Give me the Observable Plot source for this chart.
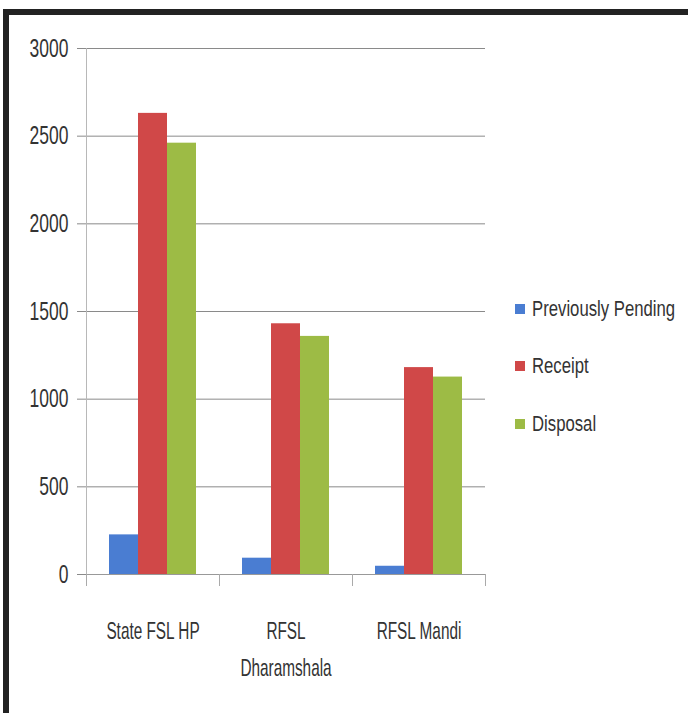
<!DOCTYPE html>
<html><head><meta charset="utf-8">
<script src="https://cdn.jsdelivr.net/npm/d3@7"></script>
<script src="https://cdn.jsdelivr.net/npm/@observablehq/plot@0.6"></script>
<style>
body{margin:0;background:#fff;}
#wrap{position:relative;width:688px;height:713px;overflow:hidden;font-family:"Liberation Sans",Arial,sans-serif;}
#frame{position:absolute;left:3px;top:9px;width:720px;height:740px;border-top:6px solid #222;border-left:6px solid #222;}
#chart{position:absolute;left:0;top:0;}
.lg{position:absolute;left:515px;height:30px;display:flex;align-items:center;font-size:22px;color:#333;white-space:nowrap;}
.lg .sw{display:inline-block;width:10px;height:10px;margin-right:7px;flex:none;}
.lg .tx{display:inline-block;transform:scaleX(0.76);transform-origin:left center;}
</style></head><body>
<div id="wrap"><div id="frame"></div><div id="chart"></div><div id="legend"></div></div>
<script>
const categories = ["State FSL HP","RFSL Dharamshala","RFSL Mandi"];
const seriesNames = ["Previously Pending","Receipt","Disposal"];
const pending = [226, 93, 47];
const receipt = [2630, 1430, 1180];
const disposal = [2460, 1358, 1126];
const colors = ["#4a7dd2","#d04848","#9dbb45"];
const yTicks = [0,500,1000,1500,2000,2500,3000];
const legendCenters = [309, 366, 424];

const values = [pending, receipt, disposal];
const data = categories.flatMap((c,i)=>seriesNames.map((s,j)=>({cat:c, s, v:values[j][i]})));
const labelText = d => d === "RFSL Dharamshala" ? "RFSL\nDharamshala" : d;

const chart = Plot.plot({
  width:688, height:713, marginTop:48, marginBottom:139, marginLeft:85, marginRight:202,
  style:{fontFamily:'"Liberation Sans",Arial,sans-serif', fontSize:"21px", color:"#333", background:"transparent", overflow:"visible"},
  fx:{domain:categories, padding:0, axis:null, label:null},
  x:{domain:seriesNames, paddingInner:0, paddingOuter:0.77, axis:null},
  y:{domain:[0,3000], axis:null},
  color:{domain:seriesNames, range:colors},
  marks:[
    Plot.gridY({ticks:yTicks, stroke:"#8a8a8a", strokeOpacity:1}),
    Plot.axisY({ticks:yTicks, tickFormat:d=>String(d), tickSize:9, tickPadding:9, stroke:"#8a8a8a", label:null, fontSize:25, fill:"#333"}),
    Plot.barY(data, {fx:"cat", x:"s", y:"v", fill:"s"}),
    Plot.frame({anchor:"left", stroke:"#b8b8b8", facetAnchor:"left"}),
    Plot.ruleY([0], {stroke:"#999"}),
    Plot.frame({anchor:"left", insetTop:526, insetBottom:-11, stroke:"#aaa"}),
    Plot.frame({anchor:"right", insetTop:526, insetBottom:-11, stroke:"#aaa"}),
    Plot.text(categories, {fx:d=>d, text:labelText, frameAnchor:"bottom", lineAnchor:"top", dy:38, lineHeight:1.54, fontSize:24, fill:"#333"})
  ]
});
document.getElementById("chart").appendChild(chart);

// condense the text horizontally (narrow, Calibri-like look)
function squeeze(sel, k){
  d3.select(chart).selectAll(sel).each(function(){
    const t = this.getAttribute("transform");
    if (t) this.setAttribute("transform", t + ` scale(${k},1)`);
    else {
      const x = +this.getAttribute("x") || 0;
      this.setAttribute("transform", `translate(${x},0) scale(${k},1) translate(${-x},0)`);
    }
  });
}
squeeze('g[aria-label="y-axis tick label"] text', 0.7);
squeeze('g[aria-label="text"] text', 0.64);

const lg = document.getElementById("legend");
seriesNames.forEach((s,i)=>{
  const d = document.createElement("div");
  d.className = "lg";
  d.style.top = (legendCenters[i]-15)+"px";
  d.innerHTML = `<span class="sw" style="background:${colors[i]}"></span><span class="tx">${s}</span>`;
  lg.appendChild(d);
});
</script>
</body></html>
